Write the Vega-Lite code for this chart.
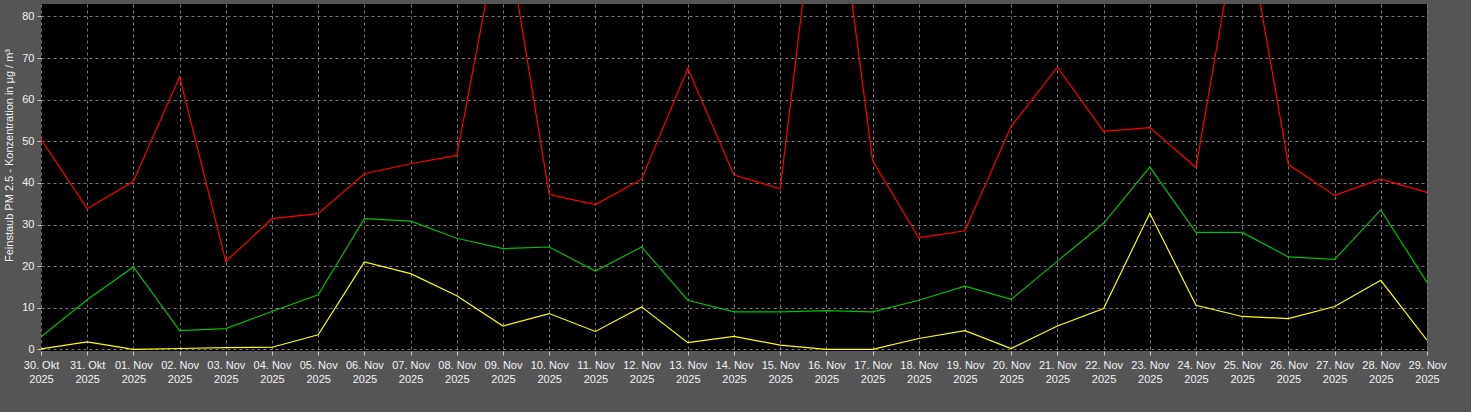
{
  "$schema": "https://vega.github.io/schema/vega-lite/v6.json",
  "autosize": {"type": "none"},
  "width": 1386,
  "height": 347,
  "padding": {"left": 41, "top": 4, "right": 44, "bottom": 61},
  "background": "#555555",
  "config": {
    "view": {"fill": "#000000", "stroke": null},
    "font": "Liberation Sans",
    "axis": {
      "labelFont": "Liberation Sans",
      "titleFont": "Liberation Sans",
      "labelFontSize": 11,
      "titleFontSize": 11,
      "labelColor": "#f0f0f4",
      "titleColor": "#f0f0f4",
      "titleFontWeight": "normal",
      "domain": false,
      "tickColor": "#c8c8c8",
      "tickSize": 4,
      "gridColor": "#7a7a7a",
      "gridDash": [3, 3],
      "gridWidth": 1
    }
  },
  "datasets": {
    "pm": [
      {"d": "30. Okt", "Max": 50.5, "Mittel": 3.0, "Min": 0.1},
      {"d": "31. Okt", "Max": 33.8, "Mittel": 11.9, "Min": 1.8},
      {"d": "01. Nov", "Max": 40.4, "Mittel": 19.8, "Min": 0.0},
      {"d": "02. Nov", "Max": 65.5, "Mittel": 4.5, "Min": 0.2},
      {"d": "03. Nov", "Max": 21.1, "Mittel": 5.0, "Min": 0.4},
      {"d": "04. Nov", "Max": 31.4, "Mittel": 9.1, "Min": 0.5},
      {"d": "05. Nov", "Max": 32.6, "Mittel": 13.1, "Min": 3.5},
      {"d": "06. Nov", "Max": 42.2, "Mittel": 31.4, "Min": 21.0},
      {"d": "07. Nov", "Max": 44.6, "Mittel": 30.8, "Min": 18.2},
      {"d": "08. Nov", "Max": 46.6, "Mittel": 26.7, "Min": 12.9},
      {"d": "09. Nov", "Max": 105.3, "Mittel": 24.2, "Min": 5.6},
      {"d": "10. Nov", "Max": 37.2, "Mittel": 24.6, "Min": 8.6},
      {"d": "11. Nov", "Max": 34.8, "Mittel": 18.8, "Min": 4.3},
      {"d": "12. Nov", "Max": 40.9, "Mittel": 24.6, "Min": 10.2},
      {"d": "13. Nov", "Max": 67.5, "Mittel": 11.8, "Min": 1.6},
      {"d": "14. Nov", "Max": 41.9, "Mittel": 9.0, "Min": 3.1},
      {"d": "15. Nov", "Max": 38.6, "Mittel": 9.0, "Min": 1.0},
      {"d": "16. Nov", "Max": 130.5, "Mittel": 9.3, "Min": 0.0},
      {"d": "17. Nov", "Max": 45.4, "Mittel": 9.0, "Min": 0.0},
      {"d": "18. Nov", "Max": 26.8, "Mittel": 11.8, "Min": 2.6},
      {"d": "19. Nov", "Max": 28.5, "Mittel": 15.2, "Min": 4.5},
      {"d": "20. Nov", "Max": 53.6, "Mittel": 12.0, "Min": 0.2},
      {"d": "21. Nov", "Max": 67.8, "Mittel": 21.2, "Min": 5.6},
      {"d": "22. Nov", "Max": 52.4, "Mittel": 30.3, "Min": 9.8},
      {"d": "23. Nov", "Max": 53.3, "Mittel": 43.8, "Min": 32.7},
      {"d": "24. Nov", "Max": 43.7, "Mittel": 28.1, "Min": 10.6},
      {"d": "25. Nov", "Max": 108.0, "Mittel": 28.1, "Min": 7.9},
      {"d": "26. Nov", "Max": 44.4, "Mittel": 22.2, "Min": 7.4},
      {"d": "27. Nov", "Max": 37.0, "Mittel": 21.6, "Min": 10.3},
      {"d": "28. Nov", "Max": 40.9, "Mittel": 33.5, "Min": 16.6},
      {"d": "29. Nov", "Max": 37.7, "Mittel": 16.1, "Min": 2.2}
    ]
  },
  "data": {"name": "pm"},
  "transform": [{"fold": ["Max", "Mittel", "Min"], "as": ["s", "v"]}],
  "mark": {"type": "line", "clip": true, "strokeWidth": 1.2, "interpolate": "linear"},
  "encoding": {
    "x": {
      "field": "d",
      "type": "ordinal",
      "sort": null,
      "scale": {"type": "point", "padding": 0},
      "axis": {
        "title": null,
        "labelAngle": 0,
        "labelPadding": 4,
        "labelLineHeight": 14,
        "labelExpr": "[datum.label, '2025']",
        "grid": true
      }
    },
    "y": {
      "field": "v",
      "type": "quantitative",
      "scale": {"domain": [-0.4, 83], "nice": false, "zero": false},
      "axis": {
        "values": [0, 10, 20, 30, 40, 50, 60, 70, 80],
        "title": "Feinstaub PM 2.5 - Konzentration in  µg / m³",
        "titleAngle": -90,
        "titleAlign": "center",
        "titleBaseline": "middle",
        "titleX": -32,
        "titleY": 151,
        "labelPadding": 3,
        "grid": true
      }
    },
    "color": {
      "field": "s",
      "type": "nominal",
      "scale": {"domain": ["Max", "Mittel", "Min"], "range": ["#ff0000", "#00c000", "#ffff00"]},
      "legend": null
    }
  }
}
